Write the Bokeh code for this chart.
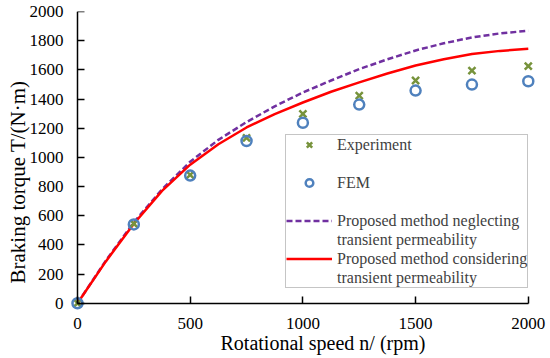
from bokeh.plotting import figure
from bokeh.models import Range1d, FixedTicker, Legend, LegendItem, LinearAxis
from bokeh.embed import file_html
from bokeh.resources import INLINE

# ---- data ----
speed = [0, 250, 500, 750, 1000, 1250, 1500, 1750, 2000]
experiment = [0, 545, 880, 1134, 1298, 1423, 1527, 1595, 1625]
fem = [0, 540, 875, 1112, 1237, 1362, 1458, 1499, 1522]

curve_speed = [0, 125, 250, 375, 500, 625, 750, 875, 1000, 1125, 1250, 1375,
               1500, 1625, 1750, 1875, 2000]
neglecting = [0, 290, 555, 780, 970, 1120, 1242, 1350, 1445, 1527, 1605, 1672,
              1733, 1782, 1822, 1850, 1868]
considering = [0, 285, 545, 770, 950, 1090, 1205, 1297, 1376, 1450, 1514, 1575,
               1630, 1672, 1708, 1730, 1744]

x_ticks = [0, 500, 1000, 1500, 2000]
y_ticks = [0, 200, 400, 600, 800, 1000, 1200, 1400, 1600, 1800, 2000]

x_title = "Rotational speed n/ (rpm)"
y_title = "Braking torque T/(N\u00b7m)"

FONT = "Liberation Serif"
NBSP = "\u00a0"

p = figure(width=550, height=358, output_backend="svg", toolbar_location=None,
           x_range=Range1d(-31, 2032), y_range=Range1d(-50, 2000),
           min_border_left=70, min_border_right=15, min_border_top=11,
           min_border_bottom=48)
p.outline_line_color = None
p.xgrid.visible = False
p.ygrid.visible = False

# axes at the frame edge: tick labels and titles only
for ax, ticks in ((p.xaxis[0], x_ticks), (p.yaxis[0], y_ticks)):
    ax.ticker = FixedTicker(ticks=ticks)
    ax.axis_line_color = None
    ax.major_tick_line_color = None
    ax.minor_tick_line_color = None
    ax.major_tick_in = 0
    ax.major_tick_out = 0
    ax.major_label_text_font = FONT
    ax.major_label_text_font_size = "17px"
    ax.major_label_text_color = "black"
    ax.axis_label_text_font = FONT
    ax.axis_label_text_font_style = "normal"
    ax.axis_label_text_color = "black"
p.xaxis[0].major_label_standoff = 7
p.xaxis[0].axis_label_standoff = 0
p.xaxis[0].axis_label_text_font_size = "20px"
p.xaxis[0].axis_label = NBSP * 8 + x_title
p.yaxis[0].major_label_standoff = 7
p.yaxis[0].axis_label_standoff = -3
p.yaxis[0].axis_label_text_font_size = "21px"
p.yaxis[0].axis_label = y_title + NBSP * 8

# axes drawn at the data zero: axis line and inward ticks only
for side, ticks in (("below", x_ticks), ("left", y_ticks)):
    ax = LinearAxis(fixed_location=0, bounds=(0, 2000),
                    ticker=FixedTicker(ticks=ticks))
    ax.minor_tick_line_color = None
    ax.major_tick_in = 7
    ax.major_tick_out = 0
    ax.axis_line_color = "black"
    ax.axis_line_width = 1.5
    ax.major_tick_line_color = "black"
    ax.major_tick_line_width = 1.5
    ax.major_label_text_color = None
    ax.major_label_text_font_size = "1px"
    ax.major_label_standoff = 0
    ax.axis_label = None
    p.add_layout(ax, side)

r_neg = p.line(curve_speed, neglecting, line_color="#7030A0", line_width=2.5,
               line_dash="6 3")
r_con = p.line(curve_speed, considering, line_color="#FF0000", line_width=2.5)
r_exp = p.scatter(speed, experiment, marker="x", size=10, line_color="#77933C",
                  line_width=2.5)
r_fem = p.scatter(speed, fem, marker="circle", size=10, line_color="#4F81BD",
                  fill_color=None, line_width=2.5)

# invisible renderer used only as spacer / second text lines in the legend
blank = p.line([], [], line_alpha=0)

legend = Legend(items=[
    LegendItem(label="Experiment", renderers=[r_exp]),
    LegendItem(label=" ", renderers=[blank]),
    LegendItem(label="FEM", renderers=[r_fem]),
    LegendItem(label=" ", renderers=[blank]),
    LegendItem(label="Proposed method neglecting", renderers=[r_neg]),
    LegendItem(label="transient permeability", renderers=[blank]),
    LegendItem(label="Proposed method considering", renderers=[r_con]),
    LegendItem(label="transient permeability", renderers=[blank]),
], location=(215, 22))
legend.padding = 0
legend.margin = 0
legend.spacing = 0
legend.glyph_width = 46
legend.glyph_height = 19
legend.label_height = 19
legend.label_standoff = 5
legend.label_text_font = FONT
legend.label_text_font_size = "16px"
legend.label_text_color = "#3f3f3f"
legend.border_line_color = "#8c8c8c"
legend.border_line_width = 1.5
legend.background_fill_color = "white"
legend.background_fill_alpha = 1
p.add_layout(legend)

open("out.html", "w").write(file_html(p, INLINE))
